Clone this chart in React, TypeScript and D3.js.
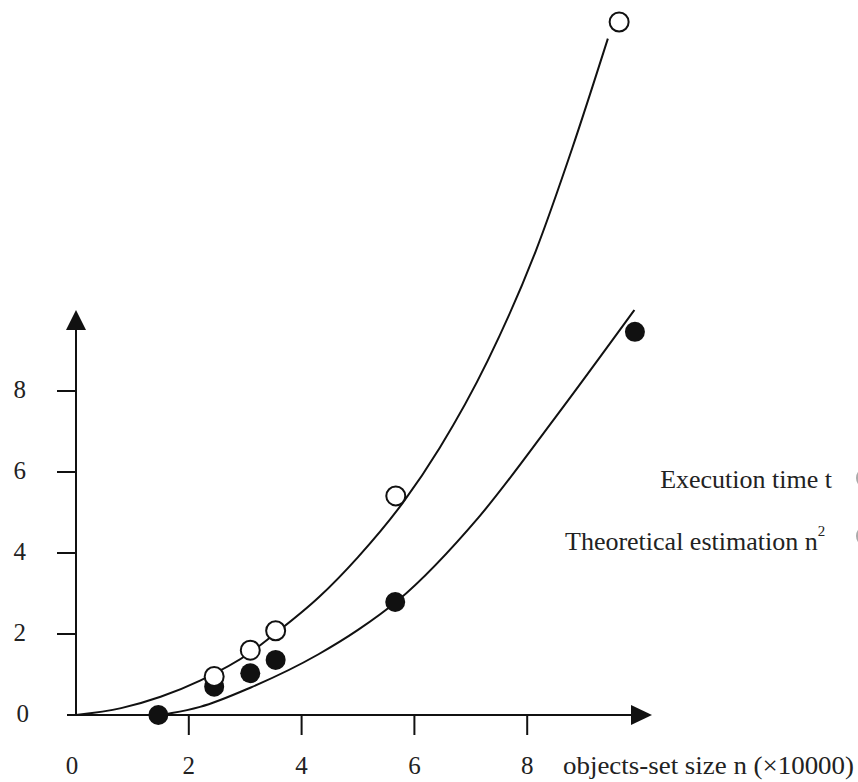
import React from "react";
import * as d3 from "d3";

const W = 858;
const H = 782;

// tick values
const xTicks = [0, 2, 4, 6, 8];
const yTicks = [0, 2, 4, 6, 8];

// measured points: execution time t (open circles)
const execX = [2.45, 3.09, 3.54, 5.67, 9.63];
const execY = [0.95, 1.6, 2.08, 5.41, 17.11];

// theoretical estimation n^2 (filled circles)
const theoX = [1.46, 2.45, 3.09, 3.54, 5.66, 9.91];
const theoY = [0.0, 0.7, 1.03, 1.36, 2.79, 9.46];

// fitted curves
const upperCurveX = [0, 0.8, 1.5, 2.2, 3.1, 3.54, 4.3, 5.0, 5.8, 6.45, 7.3, 8.15, 8.8, 9.43];
const upperCurveY = [0, 0.17, 0.45, 0.85, 1.55, 2.02, 2.9, 3.9, 5.25, 6.6, 8.75, 11.45, 14.0, 16.7];
const lowerCurveX = [1.46, 1.7, 2.2, 3.1, 4.3, 5.0, 5.7, 7.15, 8.5, 9.9];
const lowerCurveY = [0, 0.05, 0.2, 0.68, 1.5, 2.1, 2.82, 4.9, 7.35, 10.0];

const legendLabels = ["Execution time t", "Theoretical estimation n"];
const xTitle = "objects-set size n (\u00D710000)";

const FONT = "'Liberation Serif', 'Times New Roman', serif";
const INK = "#111";

export default function App() {
  const x = d3.scaleLinear().domain([0, 10]).range([76, 640]);
  const y = d3.scaleLinear().domain([0, 10]).range([715, 310]);

  const line = d3
    .line<[number, number]>()
    .x((d) => x(d[0]))
    .y((d) => y(d[1]))
    .curve(d3.curveMonotoneX);

  const upper = line(upperCurveX.map((v, i) => [v, upperCurveY[i]] as [number, number])) || "";
  const lower = line(lowerCurveX.map((v, i) => [v, lowerCurveY[i]] as [number, number])) || "";

  const x0 = x(0);
  const y0 = y(0);
  const yTop = y(10);
  const xEnd = 652;

  return (
    <svg
      width={W}
      height={H}
      style={{ position: "absolute", left: 0, top: 0, background: "#fff" }}
      fontFamily={FONT}
    >
      <rect x={0} y={0} width={W} height={H} fill="#fff" />
      {/* y axis */}
      <line x1={x0} y1={y0} x2={x0} y2={yTop + 20} stroke={INK} strokeWidth={2} />
      <polygon
        points={`${x0 - 10},${yTop + 20} ${x0 + 10},${yTop + 20} ${x0},${yTop}`}
        fill={INK}
      />
      {/* x axis */}
      <line x1={67} y1={y0} x2={xEnd - 20} y2={y0} stroke={INK} strokeWidth={2} />
      <polygon
        points={`${xEnd - 21},${y0 - 10} ${xEnd - 21},${y0 + 10} ${xEnd},${y0}`}
        fill={INK}
      />
      {/* y ticks */}
      {yTicks.map((t) =>
        t === 0 ? null : (
          <line key={"yt" + t} x1={x0 - 19} x2={x0} y1={y(t)} y2={y(t)} stroke={INK} strokeWidth={2} />
        )
      )}
      {yTicks.map((t) => (
        <text
          key={"yl" + t}
          x={t === 0 ? 29 : 26}
          y={y(t) + 7}
          textAnchor="end"
          fontSize={25}
          fill="#222"
        >
          {t}
        </text>
      ))}
      {/* x ticks */}
      {xTicks.map((t) =>
        t === 0 ? null : (
          <line key={"xt" + t} x1={x(t)} x2={x(t)} y1={y0} y2={y0 + 20} stroke={INK} strokeWidth={2} />
        )
      )}
      {xTicks.map((t) => (
        <text
          key={"xl" + t}
          x={t === 0 ? x(t) - 4 : x(t)}
          y={774}
          textAnchor="middle"
          fontSize={25}
          fill="#222"
        >
          {t}
        </text>
      ))}
      <text x={563} y={774} fontSize={26} fill="#222" textLength={291} lengthAdjust="spacingAndGlyphs">
        {xTitle}
      </text>

      {/* curves */}
      <path d={upper} fill="none" stroke={INK} strokeWidth={2} />
      <path d={lower} fill="none" stroke={INK} strokeWidth={2} />

      {/* filled circles */}
      {theoX.map((v, i) => (
        <circle key={"f" + i} cx={x(v)} cy={y(theoY[i])} r={10} fill={INK} />
      ))}
      {/* open circles */}
      {execX.map((v, i) => (
        <circle
          key={"o" + i}
          cx={x(v)}
          cy={y(execY[i])}
          r={9.5}
          fill="#fff"
          stroke={INK}
          strokeWidth={2}
        />
      ))}

      {/* legend */}
      <text x={832} y={488} textAnchor="end" fontSize={26} fill="#222">
        {legendLabels[0]}
      </text>
      <text x={565} y={550} fontSize={26} fill="#222">
        {legendLabels[1]}
        <tspan dy={-14} fontSize={15}>
          2
        </tspan>
      </text>
      <circle cx={867} cy={478} r={10} fill="none" stroke="#aaa" strokeWidth={2} />
      <circle cx={867} cy={536} r={10} fill="none" stroke="#aaa" strokeWidth={2} />
    </svg>
  );
}
